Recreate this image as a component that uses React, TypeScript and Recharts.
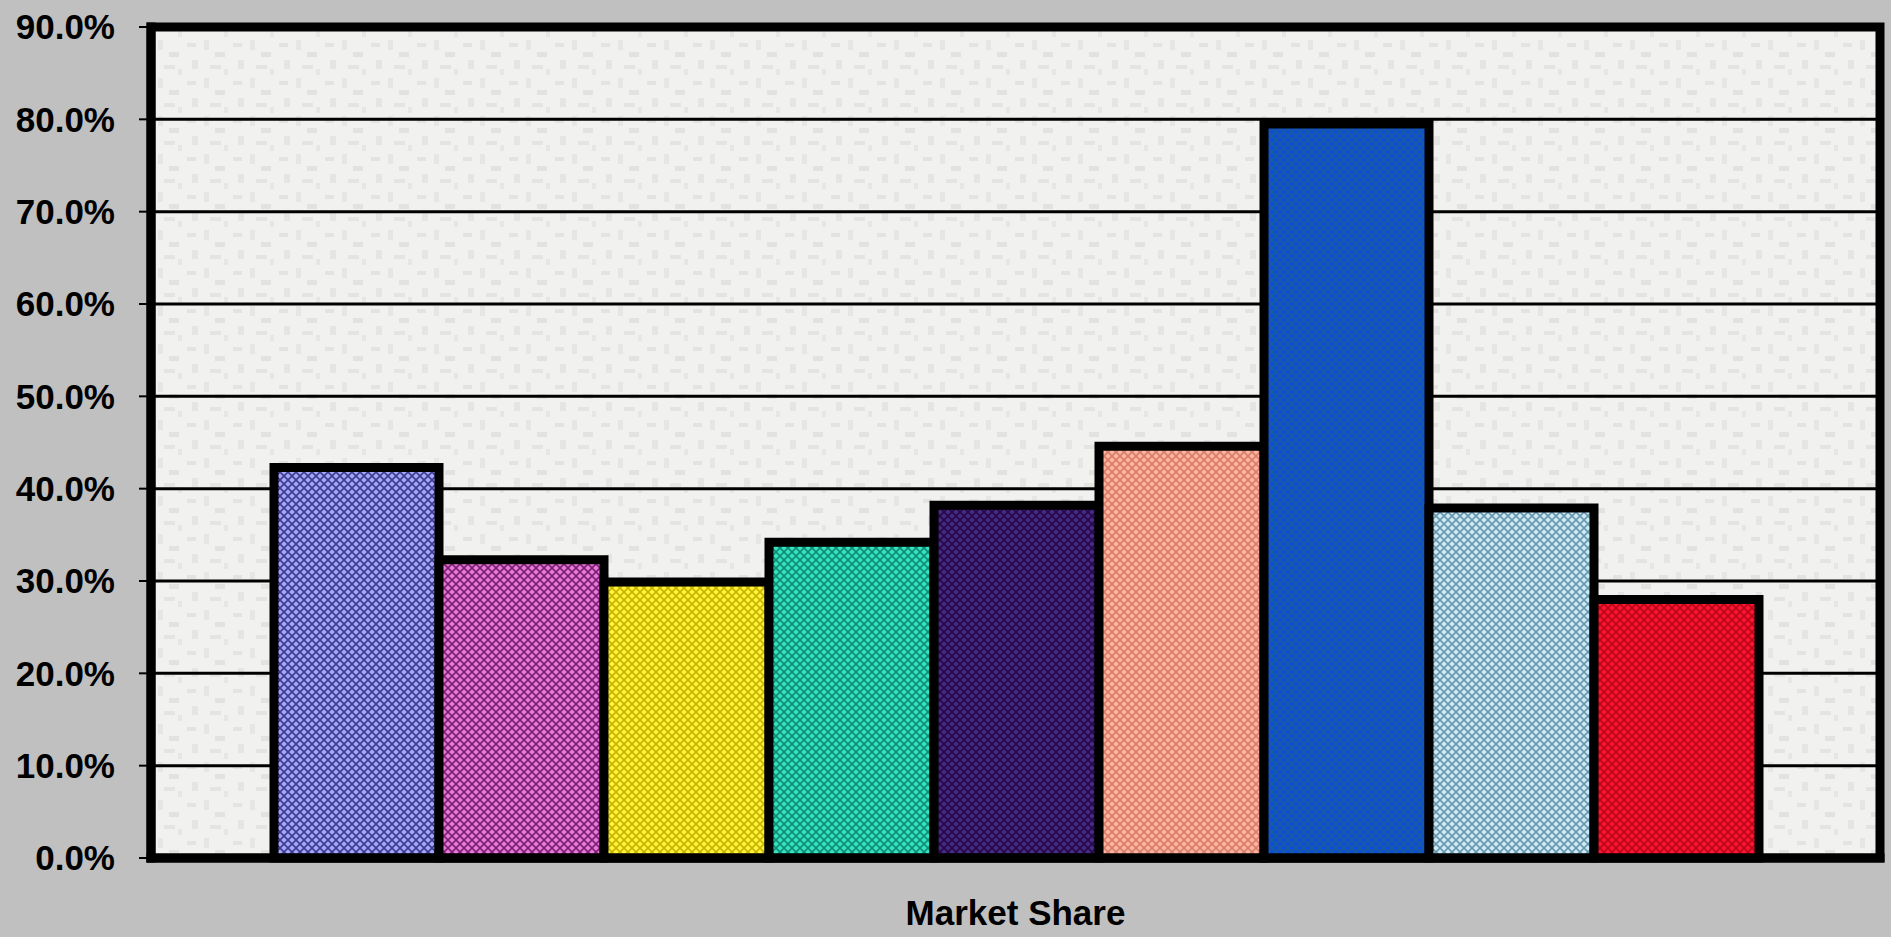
import React from 'react';
import { BarChart, Bar, XAxis, YAxis, CartesianGrid, ReferenceArea } from 'recharts';

const categories = ['Market Share'];
const seriesKeys = ['s1', 's2', 's3', 's4', 's5', 's6', 's7', 's8', 's9'];
const seriesValues = [42.3, 32.3, 29.9, 34.2, 38.2, 44.6, 79.5, 37.9, 28.0];
const yTicks = [0, 10, 20, 30, 40, 50, 60, 70, 80, 90];
const lightColors = ['#a4a4ff', '#e878dc', '#fff43a', '#34e2c2', '#3e2c88', '#ffb4a0', '#0a4ed8', '#cce9f4', '#ff1232'];
const darkColors = ['#3c3c8c', '#7c2070', '#c8b400', '#0e8c74', '#2c0644', '#d87c6c', '#1a5aa0', '#6898ae', '#b80818'];

const data = categories.map((name) => {
  const row: Record<string, string | number> = { name };
  seriesKeys.forEach((k, i) => {
    row[k] = seriesValues[i];
  });
  return row;
});

const FONT = '"Liberation Sans", Arial, Helvetica, sans-serif';
const border = { stroke: '#000', strokeWidth: 9, strokeLinecap: 'square' as const };

export default function App() {
  return (
    <div style={{ position: 'fixed', left: 0, top: 0, width: 1891, height: 937, background: '#c0c0c0' }}>
      <BarChart
        width={1891}
        height={937}
        data={data}
        margin={{ top: 27, right: 11, left: 0, bottom: 0 }}
        barGap={0}
        barCategoryGap={123}
      >
        <defs>
          <pattern id="bgTex" width="46" height="38" patternUnits="userSpaceOnUse">
            <rect width="46" height="38" fill="#f1f1ef" />
            <rect x="3" y="5" width="9" height="4" fill="#e3e3e1" />
            <rect x="20" y="2" width="5" height="10" fill="#e6e6e4" />
            <rect x="31" y="14" width="10" height="5" fill="#e2e2e0" />
            <rect x="8" y="22" width="6" height="9" fill="#e5e5e3" />
            <rect x="26" y="27" width="11" height="4" fill="#e4e4e2" />
            <rect x="40" y="31" width="4" height="6" fill="#e6e6e4" />
          </pattern>
          {seriesKeys.map((k, i) => (
            <pattern key={k} id={`pat${i}`} width="8" height="8" patternUnits="userSpaceOnUse">
              <rect width="8" height="8" fill={lightColors[i]} />
              <path d="M0,0 L8,8 M8,0 L0,8" stroke={darkColors[i]} strokeWidth={1.6} />
            </pattern>
          ))}
        </defs>
        <CartesianGrid
          vertical={false}
          stroke="#000"
          strokeWidth={3}
          fill="url(#bgTex)"
          fillOpacity={1}
        />
        <XAxis
          dataKey="name"
          tickLine={false}
          tickSize={0}
          tickMargin={42}
          height={79}
          axisLine={border}
          tick={{ fill: '#000', fontSize: 35, fontWeight: 700, fontFamily: FONT }}
        />
        <YAxis
          domain={[0, 90]}
          ticks={yTicks}
          interval={0}
          width={151}
          tickSize={12}
          tickMargin={24}
          tickFormatter={(v: number) => `${v.toFixed(1)}%`}
          axisLine={border}
          tickLine={{ stroke: '#000', strokeWidth: 2 }}
          tick={{ fill: '#000', fontSize: 35, fontWeight: 700, fontFamily: FONT }}
        />
        {seriesKeys.map((k, i) => (
          <Bar
            key={k}
            dataKey={k}
            fill={`url(#pat${i})`}
            stroke="#000"
            strokeWidth={9}
            isAnimationActive={false}
          />
        ))}
        <ReferenceArea
          y1={0}
          y2={90}
          fill="none"
          fillOpacity={0}
          stroke="#000"
          strokeWidth={9}
          strokeOpacity={1}
          ifOverflow="visible"
        />
      </BarChart>
    </div>
  );
}
